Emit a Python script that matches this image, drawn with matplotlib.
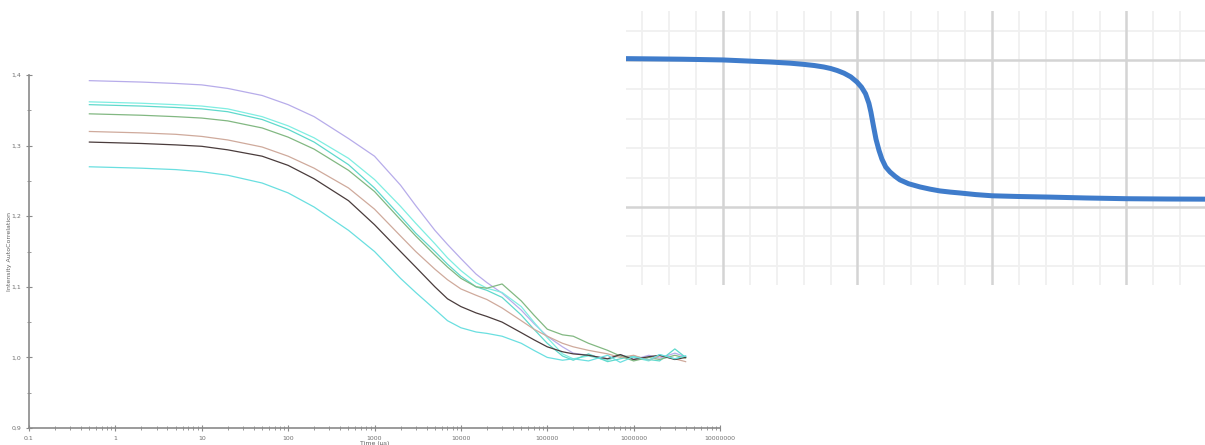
import matplotlib
matplotlib.use('Agg')
import matplotlib.pyplot as plt
import numpy as np
from matplotlib.ticker import FixedLocator, FuncFormatter

# left chart: intensity autocorrelation vs time (us)
tau = [0.5, 1, 2, 5, 10, 20, 50, 100, 200, 500, 1000, 2000, 3000, 5000, 7000,
       10000, 15000, 20000, 30000, 50000, 70000, 100000, 150000, 200000,
       300000, 500000, 700000, 1000000, 1500000, 2000000, 3000000, 4000000]

purple = [1.392, 1.391, 1.390, 1.388, 1.386, 1.381, 1.371, 1.358, 1.341, 1.310, 1.285, 1.244, 1.215, 1.180,
          1.160, 1.140, 1.118, 1.106, 1.091, 1.067, 1.048, 1.030, 1.015, 1.006, 1.003, 0.998, 1.004, 0.997,
          1.003, 0.999, 1.006, 1.001]
cyan1 = [1.362, 1.361, 1.360, 1.358, 1.356, 1.352, 1.341, 1.328, 1.311, 1.282, 1.252, 1.214, 1.190, 1.161,
         1.141, 1.123, 1.106, 1.098, 1.092, 1.072, 1.050, 1.028, 1.005, 0.998, 1.002, 0.996, 1.003, 1.000,
         0.995, 1.004, 0.998, 1.002]
cyan2 = [1.358, 1.357, 1.356, 1.354, 1.352, 1.348, 1.337, 1.323, 1.305, 1.273, 1.240, 1.200, 1.176, 1.150,
         1.132, 1.115, 1.100, 1.095, 1.085, 1.060, 1.040, 1.020, 1.002, 0.996, 1.005, 0.994, 0.998, 1.002,
         0.997, 0.995, 1.012, 1.000]
green = [1.345, 1.344, 1.343, 1.341, 1.339, 1.335, 1.325, 1.312, 1.295, 1.265, 1.235, 1.195, 1.172, 1.145,
         1.128, 1.112, 1.100, 1.098, 1.104, 1.080, 1.060, 1.040, 1.032, 1.030, 1.020, 1.010, 1.002, 0.995,
         1.000, 0.997, 1.003, 0.999]
tan = [1.320, 1.319, 1.318, 1.316, 1.313, 1.308, 1.298, 1.285, 1.268, 1.240, 1.210, 1.172, 1.150, 1.125,
       1.110, 1.097, 1.088, 1.082, 1.070, 1.052, 1.040, 1.030, 1.020, 1.015, 1.010, 1.005, 1.000, 1.003,
       0.996, 1.002, 0.998, 0.994]
dark = [1.305, 1.304, 1.303, 1.301, 1.299, 1.294, 1.285, 1.272, 1.253, 1.222, 1.188, 1.150, 1.128, 1.100,
        1.083, 1.072, 1.063, 1.058, 1.050, 1.035, 1.025, 1.015, 1.008, 1.005, 1.003, 0.998, 1.004, 0.997,
        1.001, 1.003, 0.997, 1.000]
cyan3 = [1.270, 1.269, 1.268, 1.266, 1.263, 1.258, 1.247, 1.233, 1.213, 1.180, 1.150, 1.112, 1.092, 1.068,
         1.052, 1.042, 1.036, 1.034, 1.030, 1.020, 1.010, 1.000, 0.996, 0.998, 0.995, 1.003, 0.993, 1.001,
         0.996, 1.004, 0.998, 1.002]

series = [purple, cyan1, cyan2, green, tan, dark, cyan3]
colors = ['#b7acea', '#7feee2', '#5fd9cc', '#82b882', '#cfaa9c', '#4a3c3c', '#6adfe0']

x_ticks = [0.1, 1, 10, 100, 1000, 10000, 100000, 1000000, 10000000]
x_labels = ['0.1', '1', '10', '100', '1000', '10000', '100000', '1000000', '10000000']
y_ticks = [0.9, 1.0, 1.1, 1.2, 1.3, 1.4]

# right panel: blue step curve on a grid
step_x = [0.279, 0.5, 0.7, 1.0, 1.2, 1.35, 1.5, 1.6, 1.68, 1.75, 1.80, 1.85, 1.90, 1.95,
          1.996, 2.03, 2.06, 2.085, 2.10, 2.12, 2.138, 2.16, 2.182, 2.21, 2.242, 2.28,
          2.316, 2.38, 2.465, 2.54, 2.613, 2.69, 2.762, 2.88, 3.0, 3.2, 3.431, 3.7,
          4.004, 4.3, 4.584]
step_y = [1.009, 1.007, 1.005, 1.000, 0.992, 0.986, 0.978, 0.970, 0.962, 0.952, 0.942, 0.928,
          0.910, 0.885, 0.850, 0.815, 0.770, 0.705, 0.645, 0.545, 0.460, 0.385, 0.325, 0.272,
          0.238, 0.208, 0.184, 0.158, 0.136, 0.121, 0.109, 0.101, 0.095, 0.084, 0.076, 0.071,
          0.067, 0.061, 0.056, 0.054, 0.053]

fig = plt.figure(figsize=(12.05, 4.45), dpi=100)

ax1 = fig.add_axes([29/1205, 1-428/445, 691/1205, 353/445])
for s, c in zip(series, colors):
    ax1.plot(tau, s, color=c, lw=0.9)
ax1.set_xscale('log')
ax1.set_xlim(0.1, 10000000)
ax1.set_ylim(0.9, 1.4)
ax1.set_xticks(x_ticks)
ax1.set_xticklabels(x_labels)
ax1.set_yticks(y_ticks)
ax1.yaxis.set_minor_locator(FixedLocator([0.95, 1.05, 1.15, 1.25, 1.35]))
ax1.yaxis.set_major_formatter(FuncFormatter(lambda v, p: ('%.1f' % v).replace('.', ',')))
for sp in ['top', 'right']:
    ax1.spines[sp].set_visible(False)
for sp in ['left', 'bottom']:
    ax1.spines[sp].set_color('#8a8a8a')
    ax1.spines[sp].set_linewidth(1.2)
ax1.tick_params(which='both', colors='#8a8a8a', labelcolor='#707070', labelsize=4.5, direction='inout')
ax1.tick_params(which='major', length=4, width=0.8)
ax1.tick_params(which='minor', length=2.5, width=0.6)
ax1.set_ylabel('Intensity AutoCorrelation', fontsize=4.5, color='#606060')
ax1.yaxis.set_label_coords(-0.025, 0.5)
ax1.set_xlabel('Time (\u00b5s)', fontsize=4.5, color='#606060', labelpad=0.5)

ax2 = fig.add_axes([626/1205, 1-285/445, 579/1205, 274/445])
ax2.set_facecolor('white')
ax2.set_xlim(0.279, 4.584)
ax2.set_ylim(-0.531, 1.333)
for v in np.arange(0.4, 4.6, 0.2):
    if abs(v - round(v)) > 0.01:
        ax2.axvline(v, color='#f0f0f0', lw=1.3, zorder=1)
for v in np.arange(-0.4, 1.3, 0.2):
    if abs(v - round(v)) > 0.01:
        ax2.axhline(v, color='#f0f0f0', lw=1.3, zorder=1)
for v in [1, 2, 3, 4]:
    ax2.axvline(v, color='#d4d4d4', lw=1.8, zorder=2)
for v in [0, 1]:
    ax2.axhline(v, color='#d4d4d4', lw=1.8, zorder=2)
ax2.plot(step_x, step_y, color='#3f7ccb', lw=3.6, solid_capstyle='butt', solid_joinstyle='round', zorder=3)
ax2.set_xticks([])
ax2.set_yticks([])
for sp in ax2.spines.values():
    sp.set_visible(False)

fig.savefig('out.png', dpi=100, facecolor='white')
